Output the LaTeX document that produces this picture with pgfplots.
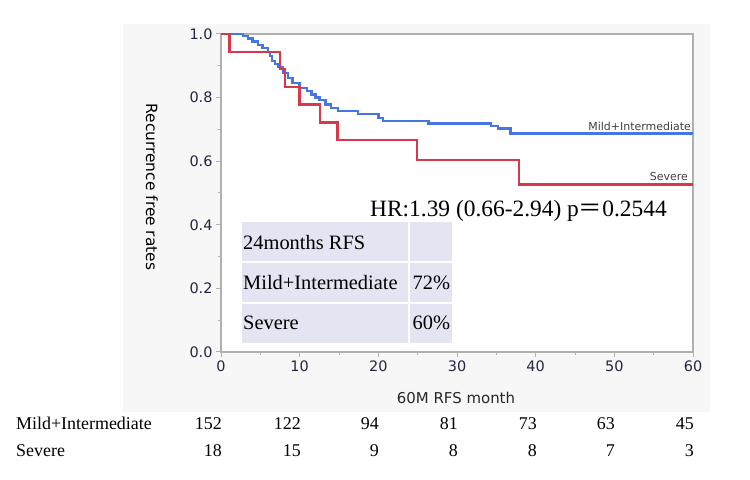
\documentclass[border=0pt]{standalone}
\usepackage{pgfplots}
\pgfplotsset{compat=1.18}
\usepackage{fontspec}
\setmainfont{Liberation Serif}
\newfontfamily\uisans{DejaVu Sans}
\newfontfamily\cjk{Noto Sans CJK JP}

\definecolor{panel}{RGB}{247,247,247}
\definecolor{frame}{RGB}{176,176,176}
\definecolor{ticktext}{RGB}{35,38,70}
\definecolor{kmblue}{RGB}{70,118,228}
\definecolor{kmred}{RGB}{214,56,76}
\definecolor{tblfill}{RGB}{227,229,242}
\definecolor{curvelab}{RGB}{64,64,64}

\begin{document}
\begin{tikzpicture}
  % canvas and grey report panel
  \begin{scope}[x=1bp,y=1bp]
    \fill[white] (0,0) rectangle (750,480);
    \fill[panel] (123,68) rectangle (710,456);
  \end{scope}

  \begin{axis}[
    at={(221bp,128bp)}, anchor=south west,
    width=472bp, height=318bp, scale only axis,
    xmin=0, xmax=60, ymin=0, ymax=1,
    xtick={0,10,...,60}, minor x tick num=1,
    ytick={0,0.2,0.4,0.6,0.8,1.0}, minor y tick num=1,
    tick align=outside, tick pos=left,
    major tick length=5bp, minor tick length=3.5bp,
    axis line style={frame, line width=1.2bp},
    every tick/.style={frame, line width=1bp},
    axis background/.style={fill=white},
    ticklabel style={font=\uisans\fontsize{14.5}{16}\selectfont, text=ticktext},
    /pgf/number format/assume math mode=true,
    yticklabel style={/pgf/number format/fixed, /pgf/number format/fixed zerofill, /pgf/number format/precision=1},
    clip=false,
  ]
    % Mild+Intermediate
    \addplot[const plot, color=kmblue, line width=2.4bp, line join=miter] coordinates {
      (0,1.000) (2.0,1.000) (2.8,0.993) (3.4,0.986) (4.0,0.976) (4.7,0.966)
      (5.3,0.955) (6.0,0.944) (6.2,0.930) (6.5,0.915) (6.9,0.905) (7.3,0.896)
      (7.9,0.877) (8.5,0.862) (9.1,0.846) (10.0,0.830) (10.9,0.820) (11.5,0.810)
      (12.0,0.800) (12.5,0.792) (13.3,0.778) (14.0,0.768) (14.9,0.757)
      (17.4,0.748) (20.0,0.736) (20.6,0.726) (26.4,0.719) (34.3,0.711)
      (35.2,0.703) (36.8,0.687) (60,0.687)
    };
    % Severe
    \addplot[const plot, color=kmred, line width=2.4bp, line join=miter] coordinates {
      (0,1.000) (1.1,0.944) (7.5,0.889) (8.1,0.833) (10.0,0.778)
      (12.6,0.722) (14.8,0.667) (24.9,0.604) (37.9,0.527) (60,0.527)
    };
  \end{axis}

  \begin{scope}[x=1bp,y=1bp]
  % axis titles
  \node[rotate=-90, font=\uisans\fontsize{15.5}{17}\selectfont, text=black] at (152,293) {Recurrence free rates};
  \node[font=\uisans\fontsize{15}{17}\selectfont, text=curvelab!60!black] at (456,82) {60M RFS month};

  % curve labels
  \node[anchor=base east, inner sep=0pt, font=\uisans\fontsize{11}{13}\selectfont, text=curvelab] at (691,349.5) {Mild+Intermediate};
  \node[anchor=base east, inner sep=0pt, font=\uisans\fontsize{11}{13}\selectfont, text=curvelab] at (688,299) {Severe};

  % hazard ratio
  \node[anchor=base west, inner sep=0pt, font=\fontsize{23.5}{26}\selectfont] at (370,263) {HR:1.39 (0.66-2.94) p{\cjk ＝}0.2544};

  % 24-month RFS table
  \fill[tblfill] (242,137) rectangle (452,258);
  \draw[white, line width=2bp] (242,217.7) -- (452,217.7);
  \draw[white, line width=2bp] (242,177.3) -- (452,177.3);
  \draw[white, line width=2bp] (409,137) -- (409,258);
  \begin{scope}[every node/.style={anchor=base west, inner sep=0pt, font=\fontsize{20.5}{23}\selectfont}]
    \node at (243,230) {24months RFS};
    \node at (243,190) {Mild+Intermediate};
    \node at (243,150.5) {Severe};
    \node at (412.5,190) {72\%};
    \node at (412.5,150.5) {60\%};
  \end{scope}

  % numbers at risk
  \begin{scope}[every node/.style={anchor=base east, inner sep=0pt, font=\fontsize{18}{20}\selectfont}]
    \node[anchor=base west] at (16,50) {Mild+Intermediate};
    \node[anchor=base west] at (16,23) {Severe};
    \foreach \xp/\a/\b in {222/152/18, 301/122/15, 379/94/9, 458/81/8, 537/73/8, 615/63/7, 694/45/3} {
      \node at (\xp,50) {\a};
      \node at (\xp,23) {\b};
    }
  \end{scope}
  \end{scope}
\end{tikzpicture}
\end{document}
